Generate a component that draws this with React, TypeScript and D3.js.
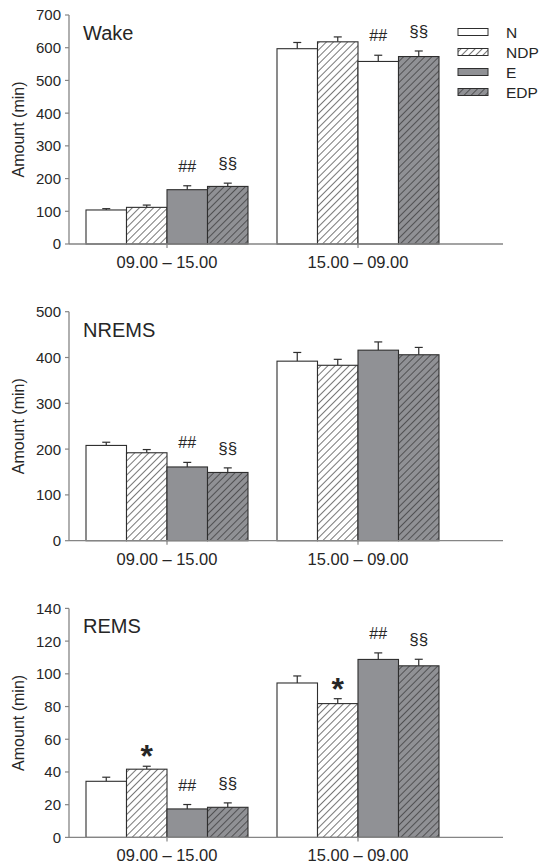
import React from "react";
import * as d3 from "d3";

const categories = ["09.00 – 15.00", "15.00 – 09.00"];
const seriesNames = ["N", "NDP", "E", "EDP"];

// Wake
const wakeMean = [
  [104, 112, 166, 176],
  [597, 618, 558, 573],
];
const wakeSem = [
  [4, 7, 12, 10],
  [19, 15, 19, 17],
];
const wakeTicks = [0, 100, 200, 300, 400, 500, 600, 700];

// NREMS
const nremsMean = [
  [208, 192, 161, 149],
  [392, 383, 416, 406],
];
const nremsSem = [
  [7, 7, 10, 10],
  [19, 13, 18, 16],
];
const nremsTicks = [0, 100, 200, 300, 400, 500];

// REMS
const remsMean = [
  [34.3, 41.7, 17.4, 18.4],
  [94.4, 81.8, 108.8, 104.9],
];
const remsSem = [
  [2.5, 1.8, 2.7, 2.7],
  [4.3, 3, 4, 4],
];
const remsTicks = [0, 20, 40, 60, 80, 100, 120, 140];

const wakeMarks = [
  { cat: 0, series: "E", text: "##" },
  { cat: 0, series: "EDP", text: "§§" },
  { cat: 1, series: "E", text: "##" },
  { cat: 1, series: "EDP", text: "§§" },
];
const nremsMarks = [
  { cat: 0, series: "E", text: "##" },
  { cat: 0, series: "EDP", text: "§§" },
];
const remsMarks = [
  { cat: 0, series: "NDP", text: "*" },
  { cat: 0, series: "E", text: "##" },
  { cat: 0, series: "EDP", text: "§§" },
  { cat: 1, series: "NDP", text: "*" },
  { cat: 1, series: "E", text: "##" },
  { cat: 1, series: "EDP", text: "§§" },
];

const panels = [
  { title: "Wake", mean: wakeMean, sem: wakeSem, ticks: wakeTicks, marks: wakeMarks, legend: true, whiteE: [1] },
  { title: "NREMS", mean: nremsMean, sem: nremsSem, ticks: nremsTicks, marks: nremsMarks, legend: false, whiteE: [] as number[] },
  { title: "REMS", mean: remsMean, sem: remsSem, ticks: remsTicks, marks: remsMarks, legend: false, whiteE: [] as number[] },
];

const W = 541;
const H = 863;
const FONT = "'Liberation Sans', Arial, sans-serif";
const TXT = "#262626";
const AXIS = "#858585";
const STROKE = "#2e2e2e";
const GREY = "#909195";

const axisLeft = 69;
const axisRight = 503;
const plotH = 229;
const panelTop = (i: number) => 15 + i * 296.7;

const xCat = d3.scalePoint<string>().domain(categories).range([167, 358]);
const xSer = d3.scaleBand<string>().domain(seriesNames).range([-81, 81]).padding(0);

function fillFor(s: string, panelWhite: number[], cat: number) {
  if (s === "N") return "#ffffff";
  if (s === "NDP") return "url(#hatchWhite)";
  if (s === "E") return panelWhite.includes(cat) ? "#ffffff" : GREY;
  return "url(#hatchGrey)";
}

function Panel({ p, idx }: { p: (typeof panels)[number]; idx: number }) {
  const top = panelTop(idx);
  const bottom = top + plotH;
  const maxV = p.ticks[p.ticks.length - 1];
  const y = d3.scaleLinear().domain([0, maxV]).range([bottom, top]);
  const bw = xSer.bandwidth();
  return (
    <g>
      {/* bars */}
      {categories.map((c, ci) =>
        seriesNames.map((s, si) => {
          const x0 = (xCat(c) as number) + (xSer(s) as number);
          const v = p.mean[ci][si];
          const e = p.sem[ci][si];
          const cx = x0 + bw / 2;
          return (
            <g key={c + s}>
              <line x1={cx} x2={cx} y1={y(v)} y2={y(v + e)} stroke={STROKE} strokeWidth={1.2} />
              <line x1={cx - 4} x2={cx + 4} y1={y(v + e)} y2={y(v + e)} stroke={STROKE} strokeWidth={1.2} />
              <rect
                x={x0}
                y={y(v)}
                width={bw}
                height={bottom - y(v)}
                fill={fillFor(s, p.whiteE, ci)}
                stroke={STROKE}
                strokeWidth={1.1}
              />
            </g>
          );
        })
      )}
      {/* annotations */}
      {p.marks.map((m, i) => {
        const si = seriesNames.indexOf(m.series);
        const cx = (xCat(categories[m.cat]) as number) + (xSer(m.series) as number) + bw / 2;
        const errTop = y(p.mean[m.cat][si] + p.sem[m.cat][si]);
        const isStar = m.text === "*";
        return (
          <text
            key={i}
            x={cx}
            y={isStar ? errTop + 1 : errTop - 14}
            textAnchor="middle"
            fontFamily={FONT}
            fontSize={isStar ? 32 : m.text === "##" ? 16 : 17}
            fontWeight={isStar ? "bold" : "normal"}
            fill={TXT}
          >
            {m.text}
          </text>
        );
      })}
      {/* y axis */}
      <line x1={axisLeft} x2={axisLeft} y1={top} y2={bottom} stroke={AXIS} strokeWidth={1.3} />
      {p.ticks.map((t) => (
        <g key={t}>
          <line x1={axisLeft - 4} x2={axisLeft} y1={y(t)} y2={y(t)} stroke={AXIS} strokeWidth={1.2} />
          <text x={axisLeft - 8} y={y(t)} dy="0.36em" textAnchor="end" fontFamily={FONT} fontSize={15} fill={TXT}>
            {t}
          </text>
        </g>
      ))}
      {/* x axis */}
      <line x1={axisLeft} x2={axisRight} y1={bottom} y2={bottom} stroke={AXIS} strokeWidth={1.3} />
      {categories.map((c) => (
        <g key={c}>
          <line x1={xCat(c)} x2={xCat(c)} y1={bottom} y2={bottom + 4} stroke={AXIS} strokeWidth={1.2} />
          <text x={xCat(c)} y={bottom + 24} textAnchor="middle" fontFamily={FONT} fontSize={16.5} fill={TXT}>
            {c}
          </text>
        </g>
      ))}
      {/* y label */}
      <text
        transform={`translate(24,${(top + bottom) / 2}) rotate(-90)`}
        textAnchor="middle"
        fontFamily={FONT}
        fontSize={16}
        fill={TXT}
      >
        Amount (min)
      </text>
      {/* title */}
      <text x={83} y={top + 25} fontFamily={FONT} fontSize={20} fill={TXT}>
        {p.title}
      </text>
      {/* legend */}
      {p.legend &&
        seriesNames.map((s, i) => {
          const cy = 32 + i * 20;
          return (
            <g key={s}>
              <rect x={458} y={cy - 3.5} width={30} height={7} fill={fillFor(s, [], 0)} stroke={STROKE} strokeWidth={1} />
              <text x={506} y={cy} dy="0.36em" fontFamily={FONT} fontSize={15.5} fill={TXT}>
                {s}
              </text>
            </g>
          );
        })}
    </g>
  );
}

export default function App() {
  return (
    <svg
      width={W}
      height={H}
      viewBox={`0 0 ${W} ${H}`}
      style={{ position: "absolute", left: 0, top: 0, background: "#fff" }}
    >
      <defs>
        <pattern id="hatchWhite" patternUnits="userSpaceOnUse" width={5} height={5} patternTransform="rotate(45)">
          <rect width={5} height={5} fill="#ffffff" />
          <line x1={0} y1={0} x2={0} y2={5} stroke={STROKE} strokeWidth={1.3} />
        </pattern>
        <pattern id="hatchGrey" patternUnits="userSpaceOnUse" width={5} height={5} patternTransform="rotate(45)">
          <rect width={5} height={5} fill={GREY} />
          <line x1={0} y1={0} x2={0} y2={5} stroke={STROKE} strokeWidth={1.3} />
        </pattern>
      </defs>
      <rect width={W} height={H} fill="#fff" />
      {panels.map((p, i) => (
        <Panel key={p.title} p={p} idx={i} />
      ))}
    </svg>
  );
}
